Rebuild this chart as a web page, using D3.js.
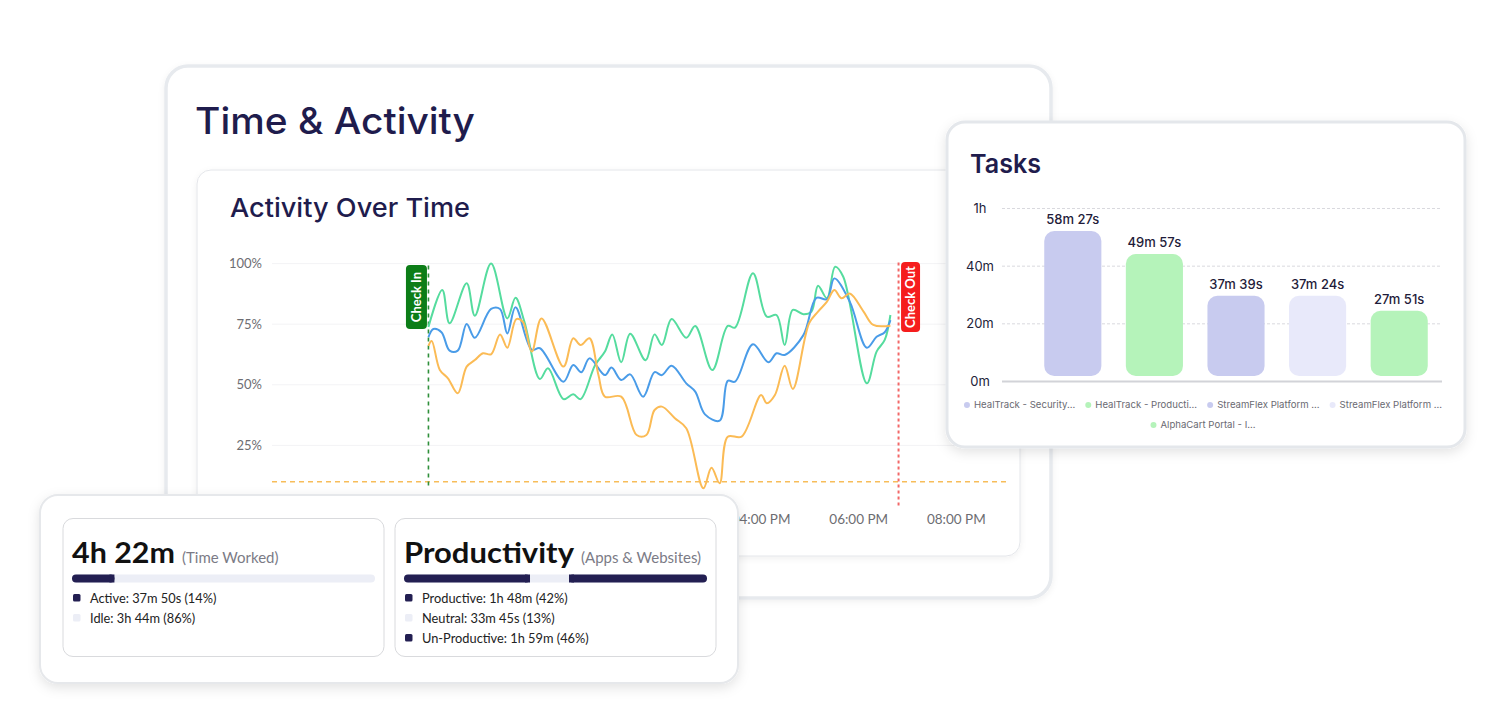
<!DOCTYPE html>
<html><head><meta charset="utf-8">
<script src="https://cdn.jsdelivr.net/npm/d3@7"></script>
<style>html,body{margin:0;padding:0;background:#fff;} svg{display:block}</style>
</head><body>
<svg id="c" width="1508" height="724"></svg>
<script>
// ---------- DATA ----------
// Activity Over Time (minute of day, percent)
const greenTimes = [551,568,577,598,608,628,648,658,669,688,698,717,729,738,756,768,777,788,799,818,829,838,850,868,879,900,919,928,950,967,979,989,999,1012,1022,1030,1041,1051,1061,1090,1102,1112,1119];
const greenValues = [73.8,89.1,75.4,91.9,78.5,100,77.4,85.9,76,52.4,56.8,44.1,46.1,44.1,58.2,63.7,70.8,59.3,71.1,60.1,70.8,66.4,77.1,69.4,74.3,56.1,74.3,73.6,96.0,78.1,78.8,66.4,80.9,79.1,80.2,90.9,85.7,98.7,94.6,50.6,63.7,68.5,78.8];
const blueTimes = [551,557,567,577,587,598,608,628,639,648,658,678,688,717,729,739,749,768,776,788,799,815,829,838,850,868,879,891,909,919,928,950,969,979,989,1012,1028,1041,1050,1069,1090,1102,1112,1119];
const blueValues = [69.6,73.0,71.7,64.1,64.1,75.1,69.4,81.3,81.3,71.2,82.0,64.4,65.1,51.3,58.2,55.2,60.9,54.0,57.1,52.0,54.3,45.1,55.2,54.0,57.9,50.6,47.2,37.8,35.2,51.6,51.3,66.7,59.3,63.0,62.3,70.5,85.9,85.3,93.9,84.3,65.3,69.8,71.7,76.7];
const orangeTimes = [551,555,565,575,587,598,608,618,628,639,648,659,667,678,690,717,729,738,749,760,768,788,807,819,829,838,854,868,889,899,909,919,936,960,967,977,989,999,1019,1030,1041,1050,1059,1069,1086,1098,1119];
const orangeValues = [66.1,68.1,56.1,52.7,46.5,57.5,60.2,63.0,62.6,70.8,65.3,77.1,76.0,63.7,77.4,57.5,69.2,66.4,69.2,54.0,45.1,45.1,29.3,29.3,39.6,41.0,36.2,32.1,7.3,15.8,9.4,28.6,28.6,45.8,42.4,45.8,57.9,48.3,75.4,80.2,84.3,89.1,85.7,87.7,80.2,74.7,74.4];
const checkInMinute = 551;
const checkOutMinute = 1129;
const targetPercent = 10;
const yTicks = [25, 50, 75, 100];
const yTickLabels = ["25%", "50%", "75%", "100%"];
const xDomainMinutes = [360, 1200];

// Tasks
const taskNames = ["HealTrack - Security...", "HealTrack - Producti...", "StreamFlex Platform ...", "StreamFlex Platform ...", "AlphaCart Portal - I..."];
const taskBarMinutes = [52.2, 44.2, 29.7, 29.7, 24.5];
const taskLabels = ["58m 27s", "49m 57s", "37m 39s", "37m 24s", "27m 51s"];
const taskColors = ["#c8cbef", "#b5f3ba", "#c8cbef", "#e8e9fa", "#b5f3ba"];
const taskTicks = [0, 20, 40, 60];
const taskTickLabels = ["0m", "20m", "40m", "1h"];

// Summary
const timeWorkedParts = [14, 86];
const timeWorkedLabels = ["Active: 37m 50s (14%)", "Idle: 3h 44m (86%)"];
const productivityParts = [42, 13, 46];
const productivityLabels = ["Productive: 1h 48m (42%)", "Neutral: 33m 45s (13%)", "Un-Productive: 1h 59m (46%)"];
const partColors = ["#231f52", "#eceef6", "#231f52"];

// ---------- DRAW ----------
const svg = d3.select("#c");
const defs = svg.append("defs");
const sh = defs.append("filter").attr("id","sh").attr("x","-10%").attr("y","-10%").attr("width","120%").attr("height","130%");
sh.append("feDropShadow").attr("dx",0).attr("dy",4).attr("stdDeviation",6).attr("flood-color","#000").attr("flood-opacity",0.11);
const sh2 = defs.append("filter").attr("id","sh2").attr("x","-10%").attr("y","-10%").attr("width","120%").attr("height","130%");
sh2.append("feDropShadow").attr("dx",0).attr("dy",2).attr("stdDeviation",3).attr("flood-color","#000").attr("flood-opacity",0.06);

const TITLE = "Inter, 'Noto Sans', sans-serif";
const LATO = "Lato, 'Noto Sans', sans-serif";

// Outer card
svg.append("rect").attr("x",166).attr("y",66).attr("width",885).attr("height",532).attr("rx",22)
  .attr("fill","#fff").attr("stroke","#e7eaee").attr("stroke-width",3.5).attr("filter","url(#sh2)");
svg.append("text").attr("x",195).attr("y",134).text("Time & Activity")
  .attr("font-family",TITLE).attr("font-weight",500).attr("font-size",37).attr("fill","#1f1c4d")
  .attr("textLength",280).attr("lengthAdjust","spacingAndGlyphs");

// Inner card
svg.append("rect").attr("x",197).attr("y",170).attr("width",823).attr("height",386).attr("rx",14)
  .attr("fill","#fff").attr("stroke","#e4e6ea").attr("stroke-width",1).attr("filter","url(#sh2)");
svg.append("text").attr("x",230).attr("y",216.5).text("Activity Over Time")
  .attr("font-family",TITLE).attr("font-weight",500).attr("font-size",26).attr("fill","#1f1c4d")
  .attr("textLength",240).attr("lengthAdjust","spacingAndGlyphs");

const toDate = m => new Date(2024,0,1,Math.floor(m/60), m%60);
const x = d3.scaleTime().domain(xDomainMinutes.map(toDate)).range([273.1, 956.3]);
const y = d3.scaleLinear().domain([0,100]).range([506, 263.6]);

const chart = svg.append("g");
chart.selectAll(".grid").data(yTicks).join("line")
  .attr("x1",272).attr("x2",1006).attr("y1",d=>y(d)).attr("y2",d=>y(d))
  .attr("stroke","#f3f3f5").attr("stroke-width",1);
chart.selectAll(".yl").data(yTicks).join("text")
  .attr("x",262).attr("y",d=>y(d)).attr("dy","0.35em").attr("text-anchor","end")
  .attr("font-family",LATO).attr("font-size",13).attr("fill","#6d6d72")
  .text((d,i)=>yTickLabels[i]);
const xTicks = x.ticks(d3.timeHour.every(2));
chart.selectAll(".xl").data(xTicks).join("text")
  .attr("x",d=>x(d)).attr("y",524).attr("text-anchor","middle")
  .attr("font-family",LATO).attr("font-size",13.5).attr("fill","#6d6d72")
  .text(d=>d3.timeFormat("%I:%M %p")(d));

// target line
chart.append("line").attr("x1",272).attr("x2",1006).attr("y1",y(targetPercent)).attr("y2",y(targetPercent))
  .attr("stroke","#f7bd5a").attr("stroke-width",1.5).attr("stroke-dasharray","5 4");

const xi = x(toDate(checkInMinute)), xo = x(toDate(checkOutMinute));
chart.append("line").attr("x1",xi).attr("x2",xi).attr("y1",y(100)+2).attr("y2",y(7))
  .attr("stroke","#2f8f3a").attr("stroke-width",1.6).attr("stroke-dasharray","4 4");
chart.append("line").attr("x1",xo).attr("x2",xo).attr("y1",y(100)-1).attr("y2",y(0))
  .attr("stroke","#f26868").attr("stroke-width",2).attr("stroke-dasharray","3 3");

const line = d3.line().x(d=>x(toDate(d[0]))).y(d=>y(d[1])).curve(d3.curveCatmullRom.alpha(0.5));
const series = [
  {t:greenTimes, v:greenValues, c:"#55dc9e"},
  {t:blueTimes, v:blueValues, c:"#4a9ce8"},
  {t:orangeTimes, v:orangeValues, c:"#fbbb55"}
];
series.forEach(s=>{
  chart.append("path").datum(s.t.map((t,i)=>[t,s.v[i]])).attr("d",line)
    .attr("fill","none").attr("stroke",s.c).attr("stroke-width",2).attr("stroke-linejoin","round");
});

// markers
function marker(cx, cy, w, h, color, label){
  chart.append("rect").attr("x",cx-w/2).attr("y",cy-h/2).attr("width",w).attr("height",h).attr("rx",4).attr("fill",color);
  chart.append("text").attr("transform",`translate(${cx},${cy}) rotate(-90)`).attr("text-anchor","middle").attr("dy","0.36em")
    .attr("font-family",LATO).attr("font-weight",700).attr("font-size",13).attr("fill","#fff").text(label);
}
marker(xi-12, 297, 21, 64, "#0c7d17", "Check In");
marker(xo+12, 297, 19, 70, "#f51d1d", "Check Out");

// ---------- Tasks card ----------
svg.append("rect").attr("x",947).attr("y",122).attr("width",518).attr("height",325).attr("rx",18)
  .attr("fill","#fff").attr("stroke","#e4e7eb").attr("stroke-width",3).attr("filter","url(#sh)");
svg.append("text").attr("x",970).attr("y",172.5).text("Tasks")
  .attr("font-family",TITLE).attr("font-weight",600).attr("font-size",26).attr("fill","#1f1c4d")
  .attr("textLength",71).attr("lengthAdjust","spacingAndGlyphs");

const ty = d3.scaleLinear().domain([0,60]).range([381.5, 208.5]);
const tx = d3.scaleBand().domain(d3.range(taskNames.length)).range([1032,1440]).paddingInner(0.3).paddingOuter(0.15);
const tg = svg.append("g");
tg.selectAll(".tg").data(taskTicks.filter(d=>d>0)).join("line")
  .attr("x1",1002).attr("x2",1442).attr("y1",d=>ty(d)).attr("y2",d=>ty(d))
  .attr("stroke","#d9d9de").attr("stroke-width",1).attr("stroke-dasharray","3 2");
tg.append("line").attr("x1",1002).attr("x2",1442).attr("y1",ty(0)).attr("y2",ty(0))
  .attr("stroke","#d2d3d8").attr("stroke-width",2);
tg.selectAll(".tl").data(taskTicks).join("text")
  .attr("x",980).attr("y",d=>ty(d)).attr("dy","0.35em").attr("text-anchor","middle")
  .attr("font-family",TITLE).attr("font-size",13).attr("fill","#23233a")
  .text((d,i)=>taskTickLabels[i]);
tg.selectAll(".bar").data(taskBarMinutes).join("rect")
  .attr("x",(d,i)=>tx(i)).attr("width",tx.bandwidth())
  .attr("y",d=>ty(d)).attr("height",d=>ty(0)-5.5-ty(d)).attr("rx",10)
  .attr("fill",(d,i)=>taskColors[i]);
tg.selectAll(".bl").data(taskBarMinutes).join("text")
  .attr("x",(d,i)=>tx(i)+tx.bandwidth()/2).attr("y",d=>ty(d)-7).attr("text-anchor","middle")
  .attr("font-family",TITLE).attr("font-weight",500).attr("font-size",13).attr("fill","#1f1c3a")
  .text((d,i)=>taskLabels[i]);

// legend
const legendRows = [[0,1,2,3],[4]];
const legendY = [405, 425];
legendRows.forEach((row, r)=>{
  const g = tg.append("g");
  let cx = 0;
  row.forEach(i=>{
    const it = g.append("g").attr("transform",`translate(${cx},0)`);
    it.append("circle").attr("cx",3).attr("cy",0).attr("r",3).attr("fill",taskColors[i]);
    const t = it.append("text").attr("x",10).attr("y",0).attr("dy","0.35em")
      .attr("font-family",TITLE).attr("font-size",9.6).attr("fill","#6a6a72").text(taskNames[i]);
    cx += 10 + t.node().getComputedTextLength() + 10;
  });
  const w = cx - 10;
  g.attr("transform",`translate(${1203 - w/2},${legendY[r]})`);
});

// ---------- Summary card ----------
svg.append("rect").attr("x",40).attr("y",495).attr("width",698).attr("height",188).attr("rx",18)
  .attr("fill","#fff").attr("stroke","#e6e8eb").attr("stroke-width",2).attr("filter","url(#sh)");

function panel(px, big, bigW, small, parts, labels, colors){
  const g = svg.append("g");
  g.append("rect").attr("x",px).attr("y",518.5).attr("width",321).attr("height",138).attr("rx",10)
    .attr("fill","#fff").attr("stroke","#d9dadd").attr("stroke-width",1);
  g.append("text").attr("x",px+9).attr("y",563).attr("font-family",LATO).attr("font-weight",700)
    .attr("font-size",28).attr("fill","#111").text(big).attr("textLength",bigW).attr("lengthAdjust","spacingAndGlyphs");
  g.append("text").attr("x",px+9+bigW+7).attr("y",563).attr("font-family",LATO).attr("font-size",15)
    .attr("fill","#7b7b86").text(small);
  const bx = d3.scaleLinear().domain([0, d3.sum(parts)]).range([px+9, px+312]);
  g.append("rect").attr("x",px+9).attr("y",574.5).attr("width",303).attr("height",8).attr("rx",4).attr("fill","#eceef6");
  let acc = 0;
  parts.forEach((p,i)=>{
    const x0 = bx(acc), x1 = bx(acc+p);
    acc += p;
    if (colors[i] === "#eceef6") return;
    g.append("rect").attr("x",x0).attr("y",574.5).attr("width",x1-x0).attr("height",8).attr("rx",4).attr("fill",colors[i]);
    if (i>0) g.append("rect").attr("x",x0).attr("y",574.5).attr("width",Math.min(5,x1-x0)).attr("height",8).attr("fill",colors[i]);
    if (i<parts.length-1) g.append("rect").attr("x",x1-Math.min(5,x1-x0)).attr("y",574.5).attr("width",Math.min(5,x1-x0)).attr("height",8).attr("fill",colors[i]);
  });
  labels.forEach((l,i)=>{
    const yy = 598 + i*20;
    g.append("rect").attr("x",px+10).attr("y",yy-4).attr("width",7.5).attr("height",7.5).attr("rx",1.5).attr("fill",colors[i]);
    g.append("text").attr("x",px+27).attr("y",yy+4.5).attr("font-family",LATO).attr("font-size",12.8)
      .attr("fill","#222").text(l);
  });
}
panel(63, "4h 22m", 103, "(Time Worked)", timeWorkedParts, timeWorkedLabels, [partColors[0], partColors[1]]);
panel(395, "Productivity", 170, "(Apps & Websites)", productivityParts, productivityLabels, partColors);
</script>
</body></html>
